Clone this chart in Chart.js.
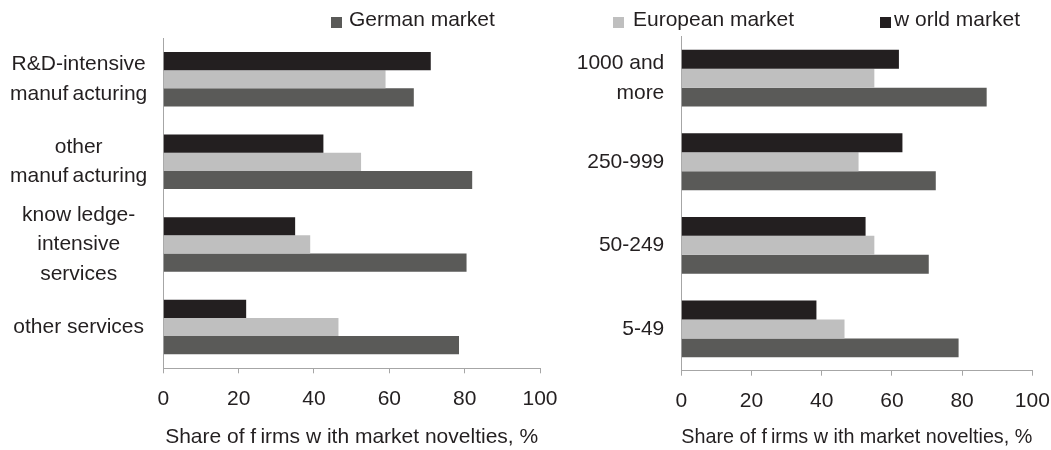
<!DOCTYPE html>
<html>
<head>
<meta charset="utf-8">
<title>Market novelties by sector and firm size</title>
<script src="https://cdn.jsdelivr.net/npm/chart.js@4.4.0/dist/chart.umd.min.js"></script>
<style>
  html, body { margin: 0; padding: 0; background: #fff; overflow: hidden; }
  #wrap { position: relative; width: 1051px; height: 450px; overflow: hidden;
          font-family: "Liberation Sans", Arial, sans-serif; color: #231f20; }
  canvas { position: absolute; top: 0; }
  #sector { left: 0; }
  #size { left: 560px; }
  .key { position: absolute; top: 7px; font-size: 21px; line-height: 24px; white-space: nowrap; }
  .sw { position: absolute; top: 17px; width: 11px; height: 11px; }
</style>
</head>
<body>
<div id="wrap">
  <canvas id="sector" width="574" height="450"></canvas>
  <canvas id="size" width="506" height="450"></canvas>

  <div class="sw" style="left:331px;background:#5a5a58"></div>
  <div class="key" style="left:349px">German market</div>
  <div class="sw" style="left:613px;background:#bfbfbf"></div>
  <div class="key" style="left:633px">European market</div>
  <div class="sw" style="left:880px;background:#231f20"></div>
  <div class="key" style="left:894px">w orld market</div>
</div>

<script>
// Categories (top to bottom)
const sectorLabels = [
  ["R&D-intensive", "manuf\u2009acturing"],
  ["other", "manuf\u2009acturing"],
  ["know ledge-", "intensive", "services"],
  "other services"
];
const sizeLabels = [["1000 and", "more"], "250-999", "50-249", "5-49"];

// Share of firms with market novelties, % — by sector
const sectorWorld    = [71, 42.5, 35, 22];
const sectorEuropean = [59, 52.5, 39, 46.5];
const sectorGerman   = [66.5, 82, 80.5, 78.5];

// Share of firms with market novelties, % — by firm size (employees)
const sizeWorld    = [62, 63, 52.5, 38.5];
const sizeEuropean = [55, 50.5, 55, 46.5];
const sizeGerman   = [87, 72.5, 70.5, 79];

const xTicks = [0, 20, 40, 60, 80, 100];
const axisTitle = "Share of f\u2009irms w ith market novelties, %";

const COL_WORLD = "#231f20", COL_EUROPE = "#bfbfbf", COL_GERMAN = "#5a5a58";
const AXIS = "#a6a6a6", TEXT = "#231f20";
const FAMILY = '"Liberation Sans", Arial, sans-serif';

Chart.defaults.font.family = FAMILY;
Chart.defaults.color = TEXT;

// keep the plot area exactly where the layout padding puts it
function noScalePadding(s) {
  s.paddingTop = 0; s.paddingBottom = 0; s.paddingLeft = 0; s.paddingRight = 0;
}

function makeChart(id, labels, world, europe, german, o) {
  return new Chart(document.getElementById(id), {
    type: "bar",
    data: {
      labels: labels,
      datasets: [
        { label: "world market", data: world, backgroundColor: COL_WORLD },
        { label: "European market", data: europe, backgroundColor: COL_EUROPE },
        { label: "German market", data: german, backgroundColor: COL_GERMAN }
      ]
    },
    options: {
      indexAxis: "y",
      responsive: false,
      animation: false,
      devicePixelRatio: 1,
      layout: { padding: { top: o.top, right: o.right, left: 0, bottom: 0 } },
      datasets: { bar: { categoryPercentage: o.cat, barPercentage: 1, borderWidth: 0 } },
      plugins: { legend: { display: false }, tooltip: { enabled: false } },
      scales: {
        x: {
          type: "linear", min: 0, max: 100,
          afterBuildTicks: s => { s.ticks = xTicks.map(v => ({ value: v })); },
          ticks: { padding: 13, color: TEXT, font: { size: 21, lineHeight: 1.2 } },
          grid: { drawOnChartArea: false, drawTicks: true, tickLength: 5, color: AXIS, lineWidth: 1 },
          border: { display: true, color: AXIS, width: 1 },
          title: { display: true, text: axisTitle, color: TEXT,
                   font: { size: 21, lineHeight: 1.2 }, padding: { top: 0, bottom: o.titlePad } },
          afterFit: s => { s.height = o.xh; noScalePadding(s); }
        },
        y: {
          grid: { display: false, drawTicks: false },
          border: { display: true, color: AXIS, width: 1 },
          ticks: { autoSkip: false, crossAlign: o.cross, padding: o.ypad, color: TEXT,
                   font: { size: 21, lineHeight: o.lh } },
          afterFit: s => { s.width = o.yw; noScalePadding(s); }
        }
      }
    }
  });
}

makeChart("sector", sectorLabels, sectorWorld, sectorEuropean, sectorGerman,
  { top: 38, right: 34, cat: 0.66, xh: 81.7, yw: 163.3, ypad: 16, cross: "center", lh: 1.4, titlePad: 0 });

makeChart("size", sizeLabels, sizeWorld, sizeEuropean, sizeGerman,
  { top: 36.4, right: 33.7, cat: 0.68, xh: 79.3, yw: 121.3, ypad: 17, cross: "near", lh: 1.47, titlePad: 0 });
</script>
</body>
</html>
